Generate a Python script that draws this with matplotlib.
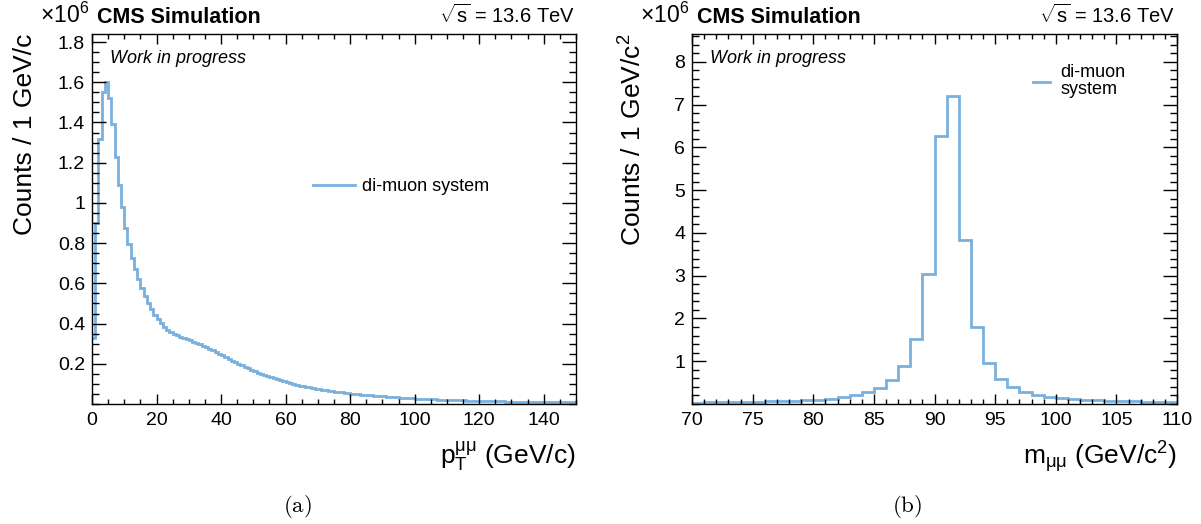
import numpy as np
import matplotlib
matplotlib.use("Agg")
import matplotlib.pyplot as plt
from matplotlib.ticker import MultipleLocator, FixedLocator, FixedFormatter

plt.rcParams['font.family'] = ['Liberation Sans', 'DejaVu Sans']
plt.rcParams['mathtext.fontset'] = 'custom'
plt.rcParams['mathtext.rm'] = 'Liberation Sans'
plt.rcParams['mathtext.it'] = 'Liberation Sans:italic'
plt.rcParams['mathtext.bf'] = 'Liberation Sans:bold'

# di-muon pT spectrum, 1 GeV bins from 0 to 150, counts in units of 1e6
pt_edges = np.arange(0, 151, 1)
pt_counts = [
    0.33, 0.90, 1.32, 1.55, 1.60, 1.52, 1.39, 1.23, 1.09, 0.98,
    0.875, 0.795, 0.727, 0.672, 0.622, 0.578, 0.537, 0.500, 0.470, 0.444,
    0.421, 0.401, 0.384, 0.370, 0.358, 0.349, 0.341, 0.334, 0.328, 0.322,
    0.316, 0.310, 0.304, 0.297, 0.290, 0.283, 0.275, 0.267, 0.259, 0.250,
    0.242, 0.233, 0.225, 0.216, 0.208, 0.200, 0.192, 0.184, 0.177, 0.170,
    0.163, 0.156, 0.150, 0.144, 0.138, 0.132, 0.127, 0.122, 0.117, 0.112,
    0.108, 0.104, 0.100, 0.096, 0.092, 0.089, 0.086, 0.083, 0.080, 0.077,
    0.074, 0.071, 0.069, 0.066, 0.064, 0.062, 0.060, 0.058, 0.056, 0.054,
    0.052, 0.050, 0.049, 0.047, 0.046, 0.044, 0.043, 0.041, 0.040, 0.039,
    0.038, 0.036, 0.035, 0.034, 0.033, 0.032, 0.031, 0.030, 0.029, 0.028,
    0.027, 0.0265, 0.026, 0.025, 0.024, 0.0235, 0.023, 0.022, 0.0215, 0.021,
    0.020, 0.0195, 0.019, 0.0185, 0.018, 0.0175, 0.017, 0.0165, 0.016, 0.0155,
    0.015, 0.0147, 0.0144, 0.014, 0.0137, 0.0134, 0.013, 0.0127, 0.0124, 0.012,
    0.0118, 0.0115, 0.0112, 0.011, 0.0107, 0.0105, 0.0102, 0.010, 0.0098, 0.0096,
    0.0094, 0.0092, 0.009, 0.0088, 0.0086, 0.0084, 0.0082, 0.008, 0.0078, 0.0076,
]

# di-muon invariant mass, 1 GeV bins from 70 to 110, counts in units of 1e6
m_edges = np.arange(70, 111, 1)
m_counts = [
    0.035, 0.038, 0.041, 0.045, 0.049, 0.054, 0.060, 0.067, 0.076, 0.088,
    0.105, 0.128, 0.160, 0.215, 0.285, 0.385, 0.560, 0.885, 1.51, 3.05,
    6.27, 7.21, 3.83, 1.80, 0.96, 0.59, 0.40, 0.28, 0.21, 0.165,
    0.135, 0.113, 0.097, 0.085, 0.076, 0.068, 0.062, 0.057, 0.052, 0.048,
]

pt_yticks = [0.2, 0.4, 0.6, 0.8, 1.0, 1.2, 1.4, 1.6, 1.8]
pt_ylabels = ['0.2', '0.4', '0.6', '0.8', '1', '1.2', '1.4', '1.6', '1.8']
m_yticks = [1, 2, 3, 4, 5, 6, 7, 8]
m_ylabels = ['1', '2', '3', '4', '5', '6', '7', '8']

line_color = '#7ab0dc'
W, H = 1201, 524

fig = plt.figure(figsize=(W / 100, H / 100), dpi=100)

def px_axes(x0, x1, y0, y1):
    return fig.add_axes([x0 / W, 1 - y1 / H, (x1 - x0) / W, (y1 - y0) / H])

def style_axes(ax, xmajor, xminor, yticks, ylabels, yminor):
    ax.xaxis.set_major_locator(MultipleLocator(xmajor))
    ax.xaxis.set_minor_locator(MultipleLocator(xminor))
    ax.yaxis.set_major_locator(FixedLocator(yticks))
    ax.yaxis.set_major_formatter(FixedFormatter(ylabels))
    ax.yaxis.set_minor_locator(MultipleLocator(yminor))
    ax.tick_params(axis='both', which='both', direction='in', top=True, right=True,
                   width=1.0, labelsize=14)
    ax.tick_params(axis='x', which='major', length=7.5, pad=6)
    ax.tick_params(axis='x', which='minor', length=3.8)
    ax.tick_params(axis='y', which='major', length=10, pad=5)
    ax.tick_params(axis='y', which='minor', length=5)
    for s in ax.spines.values():
        s.set_linewidth(1.0)

def header(ax, xl, xr):
    fig.text(xl - 52 / W, 1 - 23 / H, r'$\times$10$^{6}$', fontsize=16.5)
    fig.text(xl + 5 / W, 1 - 23 / H, 'CMS Simulation', fontsize=15.5, fontweight='bold')
    fig.text(xr, 1 - 23 / H, r'$\sqrt{\mathrm{s}}$ = 13.6 TeV', fontsize=14.5, ha='right')
    ax.text(0.038, 0.934, 'Work in progress', transform=ax.transAxes,
            fontsize=13, style='italic', va='center')

# left: transverse momentum
ax1 = px_axes(92, 576, 34, 404)
ax1.stairs(pt_counts, pt_edges, baseline=None, color=line_color, linewidth=2.0,
           label='di-muon system')
ax1.set_xlim(0, 150)
ax1.set_ylim(0, 1.84)
style_axes(ax1, 20, 5, pt_yticks, pt_ylabels, 0.05)
ax1.set_xlabel(r'p$_{\mathrm{T}}^{\mathrm{μμ}}$ (GeV/c)', fontsize=19, loc='right')
ax1.xaxis.set_label_coords(1.0, -0.095)
ax1.set_ylabel('Counts / 1 GeV/c', fontsize=19, loc='top')
ax1.yaxis.set_label_coords(-0.114, 1.0)
leg1 = ax1.legend(loc='center left', bbox_to_anchor=(0.457, 0.587), frameon=False,
                  fontsize=13, handlelength=2.3, handletextpad=0.4, borderpad=0,
                  borderaxespad=0)
header(ax1, 92 / W, 575 / W)

# right: invariant mass
ax2 = px_axes(692, 1177, 34, 404)
ax2.stairs(m_counts, m_edges, baseline=None, color=line_color, linewidth=2.0,
           label='di-muon\nsystem')
ax2.set_xlim(70, 110)
ax2.set_ylim(0, 8.65)
style_axes(ax2, 5, 1, m_yticks, m_ylabels, 0.2)
ax2.set_xlabel(r'm$_{\mathrm{μμ}}$ (GeV/c$^{2}$)', fontsize=19, loc='right')
ax2.xaxis.set_label_coords(1.0, -0.095)
ax2.set_ylabel('Counts / 1 GeV/c$^{2}$', fontsize=19, loc='top')
ax2.yaxis.set_label_coords(-0.094, 1.0)
leg2 = ax2.legend(loc='center left', bbox_to_anchor=(0.703, 0.872), frameon=False,
                  fontsize=13, handlelength=0.95, handletextpad=0.55, borderpad=0,
                  borderaxespad=0)
for t in leg2.get_texts():
    t.set_linespacing(1.0)
header(ax2, 692 / W, 1175 / W)

# sub-figure captions
fig.text(297 / W, 1 - 507 / H, r'$\mathrm{(a)}$', fontsize=16.5, ha='center', va='center',
         math_fontfamily='cm')
fig.text(907 / W, 1 - 507 / H, r'$\mathrm{(b)}$', fontsize=16.5, ha='center', va='center',
         math_fontfamily='cm')

fig.savefig('out.png', dpi=100)
